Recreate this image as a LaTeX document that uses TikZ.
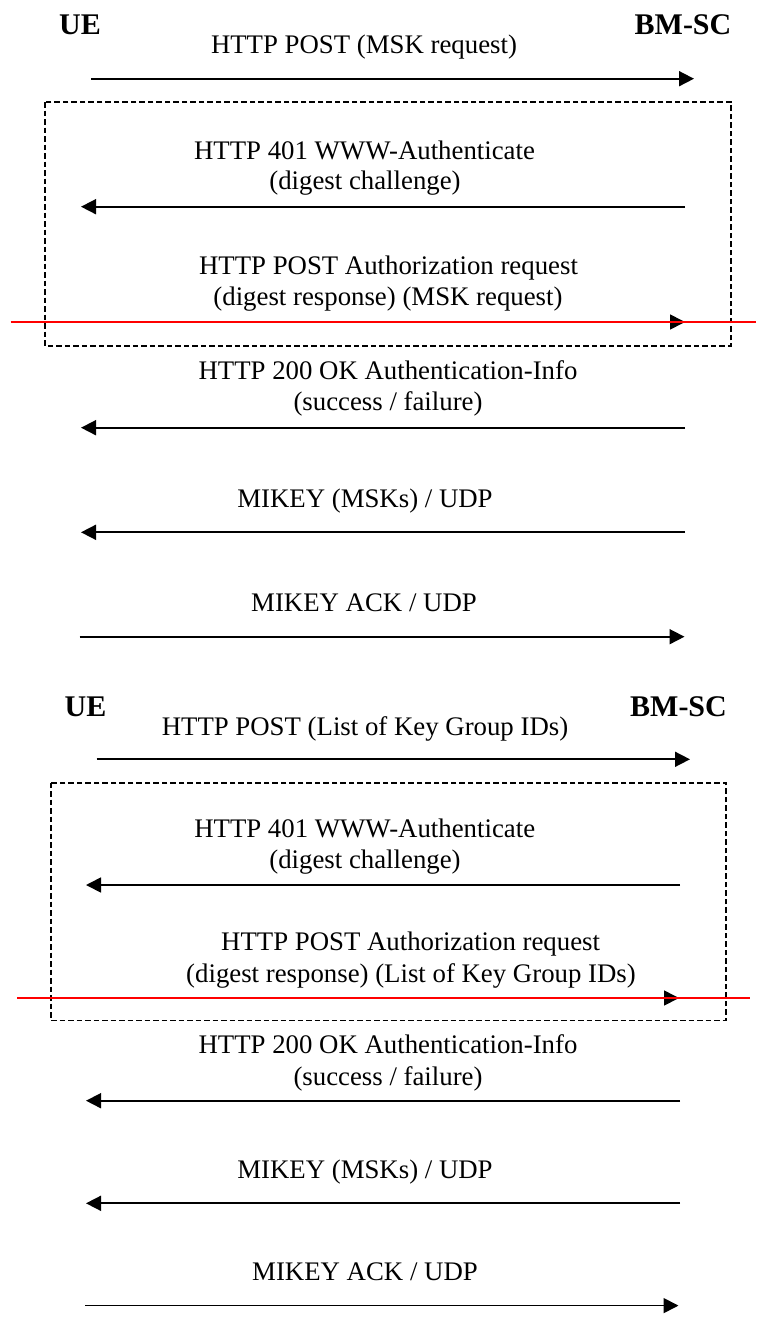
\documentclass[tikz,border=0pt]{standalone}
\usepackage{fontspec}
\setmainfont{Liberation Serif}
\usetikzlibrary{arrows.meta}

\begin{document}
\begin{tikzpicture}[x=1pt,y=-1pt,
  msg/.style={font=\fontsize{26.8}{30}\selectfont, anchor=base, inner sep=0pt},
  party/.style={font=\fontsize{30}{34}\selectfont\bfseries, anchor=base, inner sep=0pt},
  flow/.style={line width=1.7pt, -{Triangle[length=15pt,width=15pt]}},
  phase/.style={draw, line width=1.8pt, dash pattern=on 5.5pt off 3pt},
  cut/.style={draw=red, line width=2pt}]
\useasboundingbox (0,0) rectangle (756,1325);

% ---------- first exchange: MSK request ----------
\node[party] (ueA) at (80,34) {UE};
\node[party] (bmA) at (683,34) {BM-SC};

\node[msg] (pA1) at (364,53.3) {HTTP POST (MSK request)};
\coordinate (a1s) at (91,78.7);   \coordinate (a1e) at (694,78.7);

\draw[phase] (45,102) rectangle (731,345.7);

\node[msg] (pA2a) at (364.5,159) {HTTP 401 WWW-Authenticate};
\node[msg] (pA2b) at (365,189.5) {(digest challenge)};
\coordinate (a2s) at (685,206.7); \coordinate (a2e) at (81,206.7);

\node[msg] (pA3a) at (388.5,274.5) {HTTP POST Authorization request};
\node[msg] (pA3b) at (388,305) {(digest response) (MSK request)};
\coordinate (a3s) at (80,322);    \coordinate (a3e) at (685,322);

\node[msg] (pA4a) at (388,379.3) {HTTP 200 OK Authentication-Info};
\node[msg] (pA4b) at (388,410.7) {(success / failure)};
\coordinate (a4s) at (685,427.7); \coordinate (a4e) at (81,427.7);

\node[msg] (pA5) at (365,507.7) {MIKEY (MSKs) / UDP};
\coordinate (a5s) at (685,532.3); \coordinate (a5e) at (81,532.3);

\node[msg] (pA6) at (364,611.7) {MIKEY ACK / UDP};
\coordinate (a6s) at (79.5,636.7); \coordinate (a6e) at (684.5,636.7);

\foreach \i in {1,...,6} \draw[flow] (a\i s) -- (a\i e);

\coordinate (rAs) at (10.6,322); \coordinate (rAe) at (756,322);
\draw[cut] (rAs) -- (rAe);

% ---------- second exchange: Key Group IDs ----------
\node[party] (ueB) at (85.5,716) {UE};
\node[party] (bmB) at (678.5,716) {BM-SC};

\node[msg] (pB1) at (365,735) {HTTP POST (List of Key Group IDs)};
\coordinate (b1s) at (96.7,759.3); \coordinate (b1e) at (690,759.3);

\draw[phase] (51,782.7) rectangle (725.6,1020.5);

\node[msg] (pB2a) at (364.7,837.7) {HTTP 401 WWW-Authenticate};
\node[msg] (pB2b) at (365,868) {(digest challenge)};
\coordinate (b2s) at (680,885);   \coordinate (b2e) at (86,885);

\node[msg] (pB3a) at (410.6,950) {HTTP POST Authorization request};
\node[msg] (pB3b) at (411,982) {(digest response) (List of Key Group IDs)};
\coordinate (b3s) at (84.5,998);  \coordinate (b3e) at (679,998);

\node[msg] (pB4a) at (388,1053.3) {HTTP 200 OK Authentication-Info};
\node[msg] (pB4b) at (388,1085) {(success / failure)};
\coordinate (b4s) at (680,1100.7); \coordinate (b4e) at (86,1100.7);

\node[msg] (pB5) at (365,1178.3) {MIKEY (MSKs) / UDP};
\coordinate (b5s) at (680,1203.3); \coordinate (b5e) at (86,1203.3);

\node[msg] (pB6) at (365,1280.5) {MIKEY ACK / UDP};
\coordinate (b6s) at (85,1305.6); \coordinate (b6e) at (678.5,1305.6);

\foreach \i in {1,...,6} \draw[flow] (b\i s) -- (b\i e);

\coordinate (rBs) at (17,998); \coordinate (rBe) at (750,998);
\draw[cut] (rBs) -- (rBe);
\end{tikzpicture}
\end{document}
